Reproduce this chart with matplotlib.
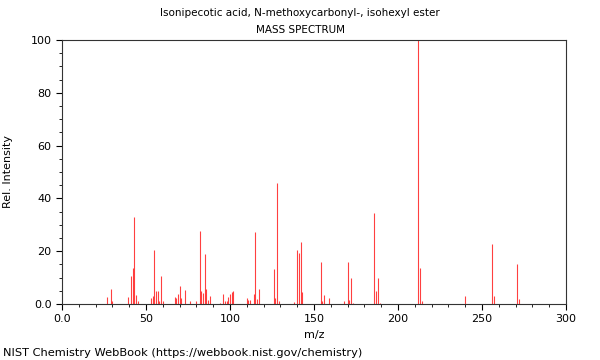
import matplotlib
matplotlib.use('Agg')
import matplotlib.pyplot as plt
from matplotlib.ticker import MultipleLocator, FuncFormatter

# m/z peaks and relative intensities
mz = [27, 29, 30, 39, 41, 42, 43, 44, 45,
      53, 54, 55, 56, 57, 58, 59, 60,
      67, 68, 69, 70, 71, 73, 76, 80,
      82, 83, 84, 85, 86, 87, 88, 94,
      96, 97, 98, 99, 100, 101, 102,
      110, 111, 112, 114, 115, 116, 117,
      126, 127, 128, 129, 138, 140, 141, 142, 143,
      154, 155, 156, 159, 168, 170, 171, 172, 173,
      186, 187, 188, 189, 212, 213, 214,
      240, 256, 257, 271, 272]
intensity = [2.8, 5.7, 1.0, 2.8, 10.5, 13.6, 33.0, 3.4, 1.0,
             2.3, 3.0, 20.3, 4.9, 4.9, 1.0, 10.5, 1.0,
             2.7, 2.3, 3.9, 6.8, 2.3, 5.2, 1.0, 1.2,
             27.8, 4.9, 4.0, 18.8, 5.7, 1.5, 3.0, 0.5,
             3.7, 1.3, 1.3, 2.7, 3.7, 4.4, 4.9,
             2.1, 1.5, 1.5, 3.9, 27.1, 1.8, 5.7,
             13.1, 2.4, 46.0, 1.3, 0.8, 20.4, 19.2, 23.6, 4.4,
             15.8, 1.3, 3.4, 2.4, 1.0, 15.8, 1.5, 9.8, 0.5,
             34.3, 5.1, 9.8, 0.5, 100.0, 13.5, 1.0,
             2.9, 22.7, 3.0, 15.2, 1.8]

title = 'Isonipecotic acid, N-methoxycarbonyl-, isohexyl ester'

fig = plt.figure(figsize=(6, 3.6), dpi=100)
ax = fig.add_axes([62/600, 1-304/360, 504/600, 264/360])
ax.vlines(mz, 0, intensity, color='red', lw=0.8, alpha=0.75)

ax.set_xlim(0, 300)
ax.set_ylim(0, 100)
ax.xaxis.set_major_locator(MultipleLocator(50))
ax.xaxis.set_minor_locator(MultipleLocator(10))
ax.yaxis.set_major_locator(MultipleLocator(20))
ax.yaxis.set_minor_locator(MultipleLocator(5))
fmt = FuncFormatter(lambda v, p: '0.0' if v == 0 else '%d' % v)
ax.xaxis.set_major_formatter(fmt)
ax.yaxis.set_major_formatter(fmt)
ax.tick_params(labelsize=8, length=4, width=0.8)
ax.tick_params(which='minor', length=2.5, width=0.6)
for s in ax.spines.values():
    s.set_linewidth(0.8)
    s.set_color('#333333')

ax.set_xlabel('m/z', fontsize=8)
ax.set_ylabel('Rel. Intensity', fontsize=8)
ax.yaxis.set_label_coords(-0.098, 0.5)
fig.text(0.5, 1-13/360, title, ha='center', va='center', fontsize=7.5)
fig.text(0.5, 1-30/360, 'MASS SPECTRUM', ha='center', va='center', fontsize=7.5)
fig.text(3/600, 1-353/360, 'NIST Chemistry WebBook (https://webbook.nist.gov/chemistry)',
         ha='left', va='center', fontsize=8.2)

plt.savefig('out.png', dpi=100)
